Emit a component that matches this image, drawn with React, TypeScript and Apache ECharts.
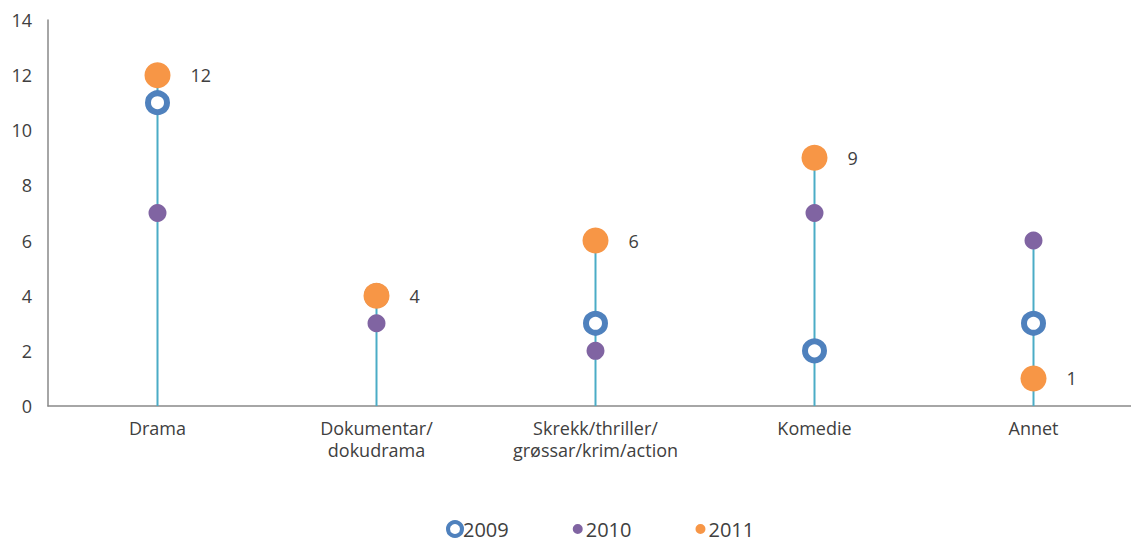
import React, { useEffect, useRef } from "react";
import * as echarts from "echarts";

const categories = ["Drama", "Dokumentar/\ndokudrama", "Skrekk/thriller/\ngrøssar/krim/action", "Komedie", "Annet"];
const s2009 = [11, 4, 3, 2, 3];
const s2010 = [7, 3, 2, 7, 6];
const s2011 = [12, 4, 6, 9, 1];
const yTicks = [0, 2, 4, 6, 8, 10, 12, 14];

const FONT = "'Open Sans', 'Noto Sans', sans-serif";
const SMALL_DOT = "path://M0,0 L0.01,0 M14,14 L14.01,14 M7,2 A5,5 0 1,1 7,12 A5,5 0 1,1 7,2 Z";

export default function App() {
  const ref = useRef<HTMLDivElement>(null);
  useEffect(() => {
    if (!ref.current) return;
    const chart = echarts.init(ref.current, null, { renderer: "svg" });
    const maxes = categories.map((_, i) => Math.max(s2009[i], s2010[i], s2011[i]));
    chart.setOption({
      animation: false,
      textStyle: { fontFamily: FONT },
      grid: { left: 48, top: 20, right: -12, bottom: 135, containLabel: false, outerBoundsMode: "none" },
      xAxis: {
        type: "category",
        data: categories,
        boundaryGap: true,
        axisLine: { lineStyle: { color: "#898989", width: 1.5 } },
        axisTick: { show: false },
        axisLabel: { color: "#404040", fontSize: 18, fontFamily: FONT, margin: 11, lineHeight: 22, interval: 0 },
      },
      yAxis: {
        type: "value",
        min: yTicks[0],
        max: yTicks[yTicks.length - 1],
        interval: 2,
        splitLine: { show: false },
        axisLine: { show: true, lineStyle: { color: "#898989", width: 1.5 } },
        axisTick: { show: false },
        axisLabel: { color: "#404040", fontSize: 18, fontFamily: FONT, margin: 16 },
      },
      legend: {
        top: 519,
        left: 446,
        padding: 0,
        itemWidth: 14,
        itemHeight: 14,
        itemGap: 62,
        textStyle: { color: "#404040", fontSize: 20, fontFamily: FONT, padding: [0, 0, 0, -4] },
        data: [
          { name: "2009", icon: "circle", itemStyle: { color: "#ffffff", borderColor: "#4F81BD", borderWidth: 4 } },
          { name: "2010", icon: SMALL_DOT, itemStyle: { color: "#8064A2", borderWidth: 0 } },
          { name: "2011", icon: SMALL_DOT, itemStyle: { color: "#F79646", borderWidth: 0 } },
        ],
      },
      series: [
        {
          name: "lines",
          type: "bar",
          data: maxes,
          barWidth: 2,
          silent: true,
          itemStyle: { color: "#4BACC6" },
          z: 1,
        },
        {
          name: "2010",
          type: "scatter",
          data: s2010,
          symbol: "circle",
          symbolSize: 18,
          itemStyle: { color: "#8064A2", opacity: 1 },
          z: 2,
        },
        {
          name: "2009",
          type: "scatter",
          data: s2009,
          symbol: "circle",
          symbolSize: 19,
          itemStyle: { color: "#ffffff", borderColor: "#4F81BD", borderWidth: 6, opacity: 1 },
          z: 3,
        },
        {
          name: "2011",
          type: "scatter",
          data: s2011,
          symbol: "circle",
          symbolSize: 26,
          itemStyle: { color: "#F79646", opacity: 1 },
          label: { show: true, position: "right", distance: 20, color: "#404040", fontSize: 18, fontFamily: FONT },
          z: 4,
        },
      ],
    });
    return () => chart.dispose();
  }, []);
  return <div ref={ref} style={{ width: 1131, height: 541, position: "absolute", left: 0, top: 0 }} />;
}
